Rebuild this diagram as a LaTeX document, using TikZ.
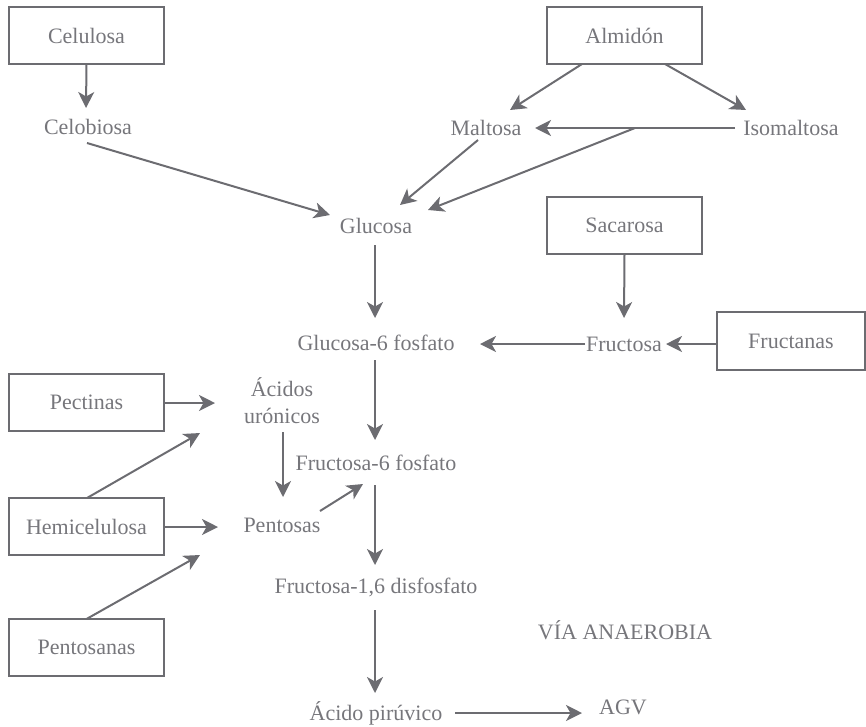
\documentclass[tikz,border=0pt]{standalone}
\usepackage{fontspec}
\setmainfont{Liberation Serif}
\usetikzlibrary{arrows.meta}
\definecolor{inkline}{RGB}{108,108,113}
\definecolor{inktext}{RGB}{118,118,123}
\tikzset{
  lbl/.style={text=inktext, font=\fontsize{22}{27}\selectfont, inner sep=0pt, outer sep=0pt, align=center},
  srcbox/.style={lbl, draw=inkline, line width=2pt, minimum width=155pt, minimum height=57pt},
  flow/.style={draw=inkline, line width=2pt, -{Stealth[length=16pt,width=16pt,inset=4.5pt]}}
}
\begin{document}
\begin{tikzpicture}[x=1pt,y=-1pt]
\useasboundingbox (0,0) rectangle (866,726);

% source boxes
\node[srcbox] (celulosa) at (86.5,35.5) {Celulosa};
\node[srcbox] (almidon) at (624.5,35.5) {Almidón};
\node[srcbox] (sacarosa) at (624.5,225.5) {Sacarosa};
\node[srcbox, minimum width=148pt, minimum height=58pt] (fructanas) at (791,341) {Fructanas};
\node[srcbox] (pectinas) at (86.5,402.5) {Pectinas};
\node[srcbox] (hemicel) at (86.5,526.5) {Hemicelulosa};
\node[srcbox] (pentosanas) at (86.5,647.5) {Pentosanas};

% intermediates
\node[lbl] (celobiosa) at (88,127) {Celobiosa};
\node[lbl] (maltosa) at (486,128) {Maltosa};
\node[lbl] (isomaltosa) at (791,128) {Isomaltosa};
\node[lbl] (glucosa) at (376,226) {Glucosa};
\node[lbl] (fructosa) at (624,344) {Fructosa};
\node[lbl] (g6p) at (376,343) {Glucosa-6 fosfato};
\node[lbl] (acidos) at (282,401) {Ácidos\\urónicos};
\node[lbl] (f6p) at (376,463) {Fructosa-6 fosfato};
\node[lbl] (pentosas) at (282,525) {Pentosas};
\node[lbl] (f16) at (376,587) {Fructosa-1,6 disfosfato};
\node[lbl] (via) at (625,630) {VÍA ANAEROBIA};
\node[lbl] (piruvico) at (376,713) {Ácido pirúvico};
\node[lbl] (agv) at (623,707) {AGV};

% branch point on the isomaltose line
\coordinate (branch) at (635,128);

% connectors
\draw[flow] (celulosa.south) -- ([shift={(-2,-19)}]celobiosa.center);
\draw[flow] ([shift={(-1,16)}]celobiosa.center) -- ([shift={(-46,-11)}]glucosa.center);
\draw[flow] ([shift={(-42.5,0)}]almidon.south) -- ([shift={(24,-18)}]maltosa.center);
\draw[flow] ([shift={(40.5,0)}]almidon.south) -- ([shift={(-45,-18)}]isomaltosa.center);
\draw[flow] ([shift={(-56,0)}]isomaltosa.center) -- ([shift={(49,0)}]maltosa.center);
\draw[flow] (branch) -- ([shift={(52,-16)}]glucosa.center);
\draw[flow] ([shift={(-8,12)}]maltosa.center) -- ([shift={(24,-21)}]glucosa.center);
\draw[flow] ([shift={(-1,19)}]glucosa.center) -- ([shift={(-1,-25)}]g6p.center);
\draw[flow] (sacarosa.south) -- ([shift={(0,-26)}]fructosa.center);
\draw[flow] ([shift={(0,3)}]fructanas.west) -- ([shift={(42,0)}]fructosa.center);
\draw[flow] ([shift={(-39,0)}]fructosa.center) -- ([shift={(104,1)}]g6p.center);
\draw[flow] ([shift={(-1,17)}]g6p.center) -- ([shift={(-1,-23)}]f6p.center);
\draw[flow] ([shift={(0,0.5)}]pectinas.east) -- ([shift={(-67,2)}]acidos.center);
\draw[flow] ([shift={(0.5,0)}]hemicel.north) -- ([shift={(-82,32)}]acidos.center);
\draw[flow] ([shift={(1,31)}]acidos.center) -- ([shift={(1,-28)}]pentosas.center);
\draw[flow] ([shift={(0,0.5)}]hemicel.east) -- ([shift={(-64,2)}]pentosas.center);
\draw[flow] (pentosanas.north) -- ([shift={(-82,30)}]pentosas.center);
\draw[flow] ([shift={(38,-14)}]pentosas.center) -- ([shift={(-13,21)}]f6p.center);
\draw[flow] ([shift={(-1,22)}]f6p.center) -- ([shift={(-1,-22)}]f16.center);
\draw[flow] ([shift={(-1,23)}]f16.center) -- ([shift={(-1,-20)}]piruvico.center);
\draw[flow] ([shift={(79,0)}]piruvico.center) -- ([shift={(-41,6)}]agv.center);
\end{tikzpicture}
\end{document}
